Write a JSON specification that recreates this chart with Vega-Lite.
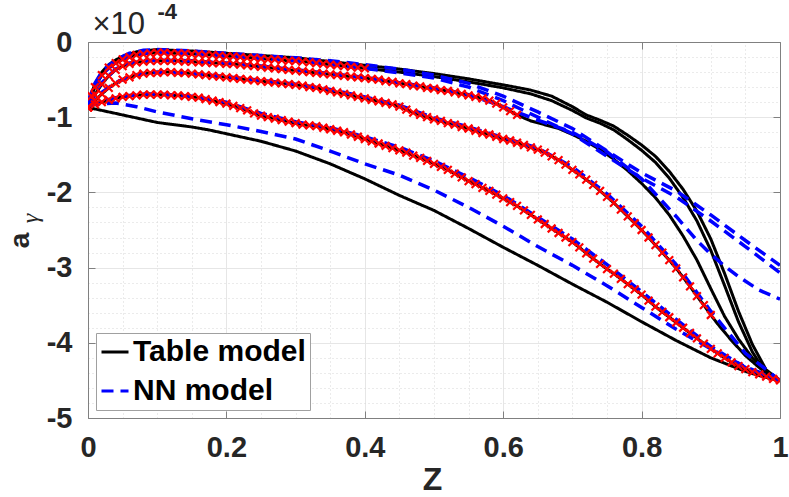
{
"$schema":"https://vega.github.io/schema/vega-lite/v6.json",
"width":692,"height":376,
"autosize":{"type":"none"},
"padding":{"left":88,"top":42,"right":9,"bottom":79},
"config":{"font":"Liberation Sans","view":{"stroke":null},
"legend":{"orient":"bottom-left","offset":8,"title":null,"labelFont":"Liberation Sans","labelFontSize":30,"labelFontWeight":"bold","labelColor":"#000000","symbolType":"stroke","symbolSize":729,"symbolStrokeWidth":3,"labelOffset":3,"padding":4,"rowPadding":9,"strokeColor":"#a0a0a0","fillColor":"#ffffff","labelLimit":400}},
"datasets":{
"tab":[
{"c":1,"z":0,"a":-0.87},{"c":1,"z":0.025,"a":-0.92},{"c":1,"z":0.05,"a":-0.97},{"c":1,"z":0.075,"a":-1.02},{"c":1,"z":0.1,"a":-1.07},{"c":1,"z":0.125,"a":-1.1},{"c":1,"z":0.15,"a":-1.13},{"c":1,"z":0.175,"a":-1.17},{"c":1,"z":0.2,"a":-1.22},{"c":1,"z":0.25,"a":-1.32},{"c":1,"z":0.3,"a":-1.45},{"c":1,"z":0.35,"a":-1.62},{"c":1,"z":0.4,"a":-1.82},{"c":1,"z":0.45,"a":-2.04},{"c":1,"z":0.5,"a":-2.24},{"c":1,"z":0.55,"a":-2.48},{"c":1,"z":0.6,"a":-2.73},{"c":1,"z":0.65,"a":-2.97},{"c":1,"z":0.7,"a":-3.22},{"c":1,"z":0.75,"a":-3.46},{"c":1,"z":0.8,"a":-3.72},{"c":1,"z":0.85,"a":-3.97},{"c":1,"z":0.9,"a":-4.2},{"c":1,"z":0.95,"a":-4.38},{"c":1,"z":0.975,"a":-4.45},{"c":1,"z":1,"a":-4.5},
{"c":2,"z":0,"a":-0.87},{"c":2,"z":0.01,"a":-0.83},{"c":2,"z":0.02,"a":-0.8},{"c":2,"z":0.03,"a":-0.77},{"c":2,"z":0.04,"a":-0.75},{"c":2,"z":0.05,"a":-0.73},{"c":2,"z":0.06,"a":-0.72},{"c":2,"z":0.07,"a":-0.71},{"c":2,"z":0.08,"a":-0.7},{"c":2,"z":0.09,"a":-0.7},{"c":2,"z":0.1,"a":-0.7},{"c":2,"z":0.11,"a":-0.7},{"c":2,"z":0.12,"a":-0.71},{"c":2,"z":0.13,"a":-0.71},{"c":2,"z":0.14,"a":-0.72},{"c":2,"z":0.15,"a":-0.73},{"c":2,"z":0.16,"a":-0.74},{"c":2,"z":0.17,"a":-0.76},{"c":2,"z":0.18,"a":-0.78},{"c":2,"z":0.19,"a":-0.8},{"c":2,"z":0.2,"a":-0.82},{"c":2,"z":0.21,"a":-0.85},{"c":2,"z":0.22,"a":-0.88},{"c":2,"z":0.23,"a":-0.91},{"c":2,"z":0.24,"a":-0.95},{"c":2,"z":0.25,"a":-0.98},{"c":2,"z":0.26,"a":-1},{"c":2,"z":0.27,"a":-1.02},{"c":2,"z":0.28,"a":-1.04},{"c":2,"z":0.29,"a":-1.06},{"c":2,"z":0.3,"a":-1.08},{"c":2,"z":0.31,"a":-1.1},{"c":2,"z":0.32,"a":-1.11},{"c":2,"z":0.33,"a":-1.12},{"c":2,"z":0.34,"a":-1.14},{"c":2,"z":0.35,"a":-1.16},{"c":2,"z":0.36,"a":-1.18},{"c":2,"z":0.37,"a":-1.2},{"c":2,"z":0.38,"a":-1.23},{"c":2,"z":0.39,"a":-1.26},{"c":2,"z":0.4,"a":-1.29},{"c":2,"z":0.41,"a":-1.32},{"c":2,"z":0.42,"a":-1.35},{"c":2,"z":0.43,"a":-1.38},{"c":2,"z":0.44,"a":-1.41},{"c":2,"z":0.45,"a":-1.44},{"c":2,"z":0.46,"a":-1.47},{"c":2,"z":0.47,"a":-1.51},{"c":2,"z":0.48,"a":-1.54},{"c":2,"z":0.49,"a":-1.58},{"c":2,"z":0.5,"a":-1.62},{"c":2,"z":0.51,"a":-1.66},{"c":2,"z":0.52,"a":-1.7},{"c":2,"z":0.53,"a":-1.75},{"c":2,"z":0.54,"a":-1.8},{"c":2,"z":0.55,"a":-1.85},{"c":2,"z":0.56,"a":-1.89},{"c":2,"z":0.57,"a":-1.94},{"c":2,"z":0.58,"a":-1.98},{"c":2,"z":0.59,"a":-2.03},{"c":2,"z":0.6,"a":-2.08},{"c":2,"z":0.61,"a":-2.13},{"c":2,"z":0.62,"a":-2.18},{"c":2,"z":0.63,"a":-2.24},{"c":2,"z":0.64,"a":-2.3},{"c":2,"z":0.65,"a":-2.36},{"c":2,"z":0.66,"a":-2.42},{"c":2,"z":0.67,"a":-2.48},{"c":2,"z":0.68,"a":-2.54},{"c":2,"z":0.69,"a":-2.6},{"c":2,"z":0.7,"a":-2.66},{"c":2,"z":0.71,"a":-2.73},{"c":2,"z":0.72,"a":-2.81},{"c":2,"z":0.73,"a":-2.88},{"c":2,"z":0.74,"a":-2.95},{"c":2,"z":0.75,"a":-3.02},{"c":2,"z":0.76,"a":-3.08},{"c":2,"z":0.77,"a":-3.15},{"c":2,"z":0.78,"a":-3.22},{"c":2,"z":0.79,"a":-3.29},{"c":2,"z":0.8,"a":-3.36},{"c":2,"z":0.81,"a":-3.44},{"c":2,"z":0.82,"a":-3.52},{"c":2,"z":0.83,"a":-3.59},{"c":2,"z":0.84,"a":-3.66},{"c":2,"z":0.85,"a":-3.73},{"c":2,"z":0.86,"a":-3.8},{"c":2,"z":0.87,"a":-3.87},{"c":2,"z":0.88,"a":-3.94},{"c":2,"z":0.89,"a":-4.01},{"c":2,"z":0.9,"a":-4.08},{"c":2,"z":0.91,"a":-4.14},{"c":2,"z":0.92,"a":-4.2},{"c":2,"z":0.93,"a":-4.26},{"c":2,"z":0.94,"a":-4.31},{"c":2,"z":0.95,"a":-4.35},{"c":2,"z":0.96,"a":-4.39},{"c":2,"z":0.97,"a":-4.42},{"c":2,"z":0.98,"a":-4.45},{"c":2,"z":0.99,"a":-4.48},{"c":2,"z":1,"a":-4.5},
{"c":3,"z":0,"a":-0.87},{"c":3,"z":0.01,"a":-0.78},{"c":3,"z":0.02,"a":-0.69},{"c":3,"z":0.03,"a":-0.61},{"c":3,"z":0.04,"a":-0.55},{"c":3,"z":0.05,"a":-0.5},{"c":3,"z":0.06,"a":-0.47},{"c":3,"z":0.07,"a":-0.44},{"c":3,"z":0.08,"a":-0.42},{"c":3,"z":0.09,"a":-0.41},{"c":3,"z":0.1,"a":-0.41},{"c":3,"z":0.11,"a":-0.4},{"c":3,"z":0.12,"a":-0.4},{"c":3,"z":0.13,"a":-0.41},{"c":3,"z":0.14,"a":-0.41},{"c":3,"z":0.15,"a":-0.42},{"c":3,"z":0.16,"a":-0.43},{"c":3,"z":0.17,"a":-0.44},{"c":3,"z":0.18,"a":-0.45},{"c":3,"z":0.19,"a":-0.46},{"c":3,"z":0.2,"a":-0.47},{"c":3,"z":0.21,"a":-0.48},{"c":3,"z":0.22,"a":-0.49},{"c":3,"z":0.23,"a":-0.5},{"c":3,"z":0.24,"a":-0.51},{"c":3,"z":0.25,"a":-0.52},{"c":3,"z":0.26,"a":-0.53},{"c":3,"z":0.27,"a":-0.54},{"c":3,"z":0.28,"a":-0.55},{"c":3,"z":0.29,"a":-0.56},{"c":3,"z":0.3,"a":-0.57},{"c":3,"z":0.31,"a":-0.58},{"c":3,"z":0.32,"a":-0.6},{"c":3,"z":0.33,"a":-0.61},{"c":3,"z":0.34,"a":-0.63},{"c":3,"z":0.35,"a":-0.65},{"c":3,"z":0.36,"a":-0.67},{"c":3,"z":0.37,"a":-0.69},{"c":3,"z":0.38,"a":-0.71},{"c":3,"z":0.39,"a":-0.73},{"c":3,"z":0.4,"a":-0.75},{"c":3,"z":0.41,"a":-0.77},{"c":3,"z":0.42,"a":-0.79},{"c":3,"z":0.43,"a":-0.81},{"c":3,"z":0.44,"a":-0.83},{"c":3,"z":0.45,"a":-0.86},{"c":3,"z":0.46,"a":-0.9},{"c":3,"z":0.47,"a":-0.94},{"c":3,"z":0.48,"a":-0.97},{"c":3,"z":0.49,"a":-1},{"c":3,"z":0.5,"a":-1.03},{"c":3,"z":0.51,"a":-1.05},{"c":3,"z":0.52,"a":-1.08},{"c":3,"z":0.53,"a":-1.1},{"c":3,"z":0.54,"a":-1.13},{"c":3,"z":0.55,"a":-1.15},{"c":3,"z":0.56,"a":-1.18},{"c":3,"z":0.57,"a":-1.21},{"c":3,"z":0.58,"a":-1.23},{"c":3,"z":0.59,"a":-1.26},{"c":3,"z":0.6,"a":-1.29},{"c":3,"z":0.61,"a":-1.31},{"c":3,"z":0.62,"a":-1.34},{"c":3,"z":0.63,"a":-1.37},{"c":3,"z":0.64,"a":-1.4},{"c":3,"z":0.65,"a":-1.43},{"c":3,"z":0.66,"a":-1.47},{"c":3,"z":0.67,"a":-1.52},{"c":3,"z":0.68,"a":-1.57},{"c":3,"z":0.69,"a":-1.63},{"c":3,"z":0.7,"a":-1.7},{"c":3,"z":0.71,"a":-1.76},{"c":3,"z":0.72,"a":-1.83},{"c":3,"z":0.73,"a":-1.9},{"c":3,"z":0.74,"a":-1.98},{"c":3,"z":0.75,"a":-2.06},{"c":3,"z":0.76,"a":-2.14},{"c":3,"z":0.77,"a":-2.23},{"c":3,"z":0.78,"a":-2.32},{"c":3,"z":0.79,"a":-2.41},{"c":3,"z":0.8,"a":-2.5},{"c":3,"z":0.81,"a":-2.6},{"c":3,"z":0.82,"a":-2.7},{"c":3,"z":0.83,"a":-2.8},{"c":3,"z":0.84,"a":-2.9},{"c":3,"z":0.85,"a":-3.01},{"c":3,"z":0.86,"a":-3.13},{"c":3,"z":0.87,"a":-3.25},{"c":3,"z":0.88,"a":-3.38},{"c":3,"z":0.89,"a":-3.5},{"c":3,"z":0.9,"a":-3.63},{"c":3,"z":0.91,"a":-3.75},{"c":3,"z":0.92,"a":-3.86},{"c":3,"z":0.93,"a":-3.97},{"c":3,"z":0.94,"a":-4.07},{"c":3,"z":0.95,"a":-4.17},{"c":3,"z":0.96,"a":-4.25},{"c":3,"z":0.97,"a":-4.33},{"c":3,"z":0.98,"a":-4.4},{"c":3,"z":0.99,"a":-4.46},{"c":3,"z":1,"a":-4.5},
{"c":4,"z":0,"a":-0.87},{"c":4,"z":0.01,"a":-0.7},{"c":4,"z":0.02,"a":-0.56},{"c":4,"z":0.03,"a":-0.45},{"c":4,"z":0.04,"a":-0.37},{"c":4,"z":0.05,"a":-0.32},{"c":4,"z":0.06,"a":-0.29},{"c":4,"z":0.07,"a":-0.27},{"c":4,"z":0.08,"a":-0.26},{"c":4,"z":0.09,"a":-0.25},{"c":4,"z":0.1,"a":-0.25},{"c":4,"z":0.11,"a":-0.25},{"c":4,"z":0.12,"a":-0.25},{"c":4,"z":0.13,"a":-0.25},{"c":4,"z":0.14,"a":-0.26},{"c":4,"z":0.15,"a":-0.26},{"c":4,"z":0.16,"a":-0.27},{"c":4,"z":0.17,"a":-0.27},{"c":4,"z":0.18,"a":-0.28},{"c":4,"z":0.19,"a":-0.28},{"c":4,"z":0.2,"a":-0.29},{"c":4,"z":0.21,"a":-0.29},{"c":4,"z":0.22,"a":-0.3},{"c":4,"z":0.23,"a":-0.31},{"c":4,"z":0.24,"a":-0.32},{"c":4,"z":0.25,"a":-0.33},{"c":4,"z":0.26,"a":-0.34},{"c":4,"z":0.27,"a":-0.35},{"c":4,"z":0.28,"a":-0.36},{"c":4,"z":0.29,"a":-0.37},{"c":4,"z":0.3,"a":-0.38},{"c":4,"z":0.31,"a":-0.39},{"c":4,"z":0.32,"a":-0.4},{"c":4,"z":0.33,"a":-0.41},{"c":4,"z":0.34,"a":-0.42},{"c":4,"z":0.35,"a":-0.43},{"c":4,"z":0.36,"a":-0.44},{"c":4,"z":0.37,"a":-0.45},{"c":4,"z":0.38,"a":-0.46},{"c":4,"z":0.39,"a":-0.47},{"c":4,"z":0.4,"a":-0.48},{"c":4,"z":0.41,"a":-0.49},{"c":4,"z":0.42,"a":-0.5},{"c":4,"z":0.43,"a":-0.52},{"c":4,"z":0.44,"a":-0.53},{"c":4,"z":0.45,"a":-0.55},{"c":4,"z":0.46,"a":-0.56},{"c":4,"z":0.47,"a":-0.58},{"c":4,"z":0.48,"a":-0.59},{"c":4,"z":0.49,"a":-0.61},{"c":4,"z":0.5,"a":-0.62},{"c":4,"z":0.51,"a":-0.64},{"c":4,"z":0.52,"a":-0.65},{"c":4,"z":0.53,"a":-0.67},{"c":4,"z":0.54,"a":-0.69},{"c":4,"z":0.55,"a":-0.71},{"c":4,"z":0.56,"a":-0.73},{"c":4,"z":0.57,"a":-0.75},{"c":4,"z":0.58,"a":-0.78},{"c":4,"z":0.59,"a":-0.82},{"c":4,"z":0.6,"a":-0.87},{"c":4,"z":0.61,"a":-0.92},{"c":4,"z":0.62,"a":-0.97},{"c":4,"z":0.64,"a":-1.05},{"c":4,"z":0.66,"a":-1.1},{"c":4,"z":0.68,"a":-1.15},{"c":4,"z":0.7,"a":-1.23},{"c":4,"z":0.72,"a":-1.32},{"c":4,"z":0.74,"a":-1.43},{"c":4,"z":0.76,"a":-1.56},{"c":4,"z":0.78,"a":-1.71},{"c":4,"z":0.8,"a":-1.88},{"c":4,"z":0.82,"a":-2.07},{"c":4,"z":0.84,"a":-2.3},{"c":4,"z":0.86,"a":-2.58},{"c":4,"z":0.88,"a":-2.9},{"c":4,"z":0.9,"a":-3.28},{"c":4,"z":0.92,"a":-3.65},{"c":4,"z":0.94,"a":-3.95},{"c":4,"z":0.96,"a":-4.2},{"c":4,"z":0.98,"a":-4.38},{"c":4,"z":1,"a":-4.5},
{"c":5,"z":0,"a":-0.87},{"c":5,"z":0.005,"a":-0.68},{"c":5,"z":0.01,"a":-0.56},{"c":5,"z":0.02,"a":-0.4},{"c":5,"z":0.03,"a":-0.3},{"c":5,"z":0.04,"a":-0.24},{"c":5,"z":0.05,"a":-0.19},{"c":5,"z":0.06,"a":-0.16},{"c":5,"z":0.07,"a":-0.13},{"c":5,"z":0.08,"a":-0.12},{"c":5,"z":0.09,"a":-0.11},{"c":5,"z":0.1,"a":-0.1},{"c":5,"z":0.12,"a":-0.11},{"c":5,"z":0.15,"a":-0.12},{"c":5,"z":0.2,"a":-0.15},{"c":5,"z":0.25,"a":-0.18},{"c":5,"z":0.3,"a":-0.21},{"c":5,"z":0.35,"a":-0.26},{"c":5,"z":0.4,"a":-0.31},{"c":5,"z":0.45,"a":-0.36},{"c":5,"z":0.5,"a":-0.42},{"c":5,"z":0.55,"a":-0.49},{"c":5,"z":0.6,"a":-0.57},{"c":5,"z":0.64,"a":-0.64},{"c":5,"z":0.67,"a":-0.72},{"c":5,"z":0.7,"a":-0.86},{"c":5,"z":0.72,"a":-0.97},{"c":5,"z":0.74,"a":-1.04},{"c":5,"z":0.76,"a":-1.12},{"c":5,"z":0.78,"a":-1.24},{"c":5,"z":0.8,"a":-1.37},{"c":5,"z":0.82,"a":-1.52},{"c":5,"z":0.84,"a":-1.72},{"c":5,"z":0.86,"a":-1.96},{"c":5,"z":0.88,"a":-2.25},{"c":5,"z":0.9,"a":-2.62},{"c":5,"z":0.92,"a":-3.08},{"c":5,"z":0.94,"a":-3.58},{"c":5,"z":0.96,"a":-4.02},{"c":5,"z":0.98,"a":-4.36},{"c":5,"z":1,"a":-4.5},
{"c":6,"z":0,"a":-0.87},{"c":6,"z":0.005,"a":-0.72},{"c":6,"z":0.01,"a":-0.6},{"c":6,"z":0.02,"a":-0.44},{"c":6,"z":0.03,"a":-0.34},{"c":6,"z":0.04,"a":-0.28},{"c":6,"z":0.05,"a":-0.23},{"c":6,"z":0.06,"a":-0.2},{"c":6,"z":0.07,"a":-0.17},{"c":6,"z":0.08,"a":-0.16},{"c":6,"z":0.09,"a":-0.15},{"c":6,"z":0.1,"a":-0.14},{"c":6,"z":0.11,"a":-0.14},{"c":6,"z":0.12,"a":-0.15},{"c":6,"z":0.13,"a":-0.15},{"c":6,"z":0.14,"a":-0.15},{"c":6,"z":0.15,"a":-0.16},{"c":6,"z":0.16,"a":-0.16},{"c":6,"z":0.17,"a":-0.17},{"c":6,"z":0.18,"a":-0.17},{"c":6,"z":0.19,"a":-0.18},{"c":6,"z":0.2,"a":-0.19},{"c":6,"z":0.21,"a":-0.19},{"c":6,"z":0.22,"a":-0.2},{"c":6,"z":0.23,"a":-0.21},{"c":6,"z":0.24,"a":-0.21},{"c":6,"z":0.25,"a":-0.22},{"c":6,"z":0.26,"a":-0.23},{"c":6,"z":0.27,"a":-0.23},{"c":6,"z":0.28,"a":-0.24},{"c":6,"z":0.29,"a":-0.25},{"c":6,"z":0.3,"a":-0.25},{"c":6,"z":0.31,"a":-0.26},{"c":6,"z":0.32,"a":-0.27},{"c":6,"z":0.33,"a":-0.28},{"c":6,"z":0.34,"a":-0.29},{"c":6,"z":0.35,"a":-0.3},{"c":6,"z":0.36,"a":-0.31},{"c":6,"z":0.37,"a":-0.32},{"c":6,"z":0.38,"a":-0.33},{"c":6,"z":0.39,"a":-0.34},{"c":6,"z":0.4,"a":-0.35},{"c":6,"z":0.45,"a":-0.4},{"c":6,"z":0.5,"a":-0.46},{"c":6,"z":0.55,"a":-0.53},{"c":6,"z":0.6,"a":-0.61},{"c":6,"z":0.64,"a":-0.69},{"c":6,"z":0.67,"a":-0.78},{"c":6,"z":0.7,"a":-0.91},{"c":6,"z":0.72,"a":-1.01},{"c":6,"z":0.74,"a":-1.08},{"c":6,"z":0.76,"a":-1.17},{"c":6,"z":0.78,"a":-1.3},{"c":6,"z":0.8,"a":-1.44},{"c":6,"z":0.82,"a":-1.6},{"c":6,"z":0.84,"a":-1.81},{"c":6,"z":0.86,"a":-2.07},{"c":6,"z":0.88,"a":-2.38},{"c":6,"z":0.9,"a":-2.77},{"c":6,"z":0.92,"a":-3.24},{"c":6,"z":0.94,"a":-3.72},{"c":6,"z":0.96,"a":-4.12},{"c":6,"z":0.98,"a":-4.41},{"c":6,"z":1,"a":-4.5}
],
"nn":[
{"c":1,"z":0,"a":-0.84},{"c":1,"z":0.02,"a":-0.82},{"c":1,"z":0.04,"a":-0.81},{"c":1,"z":0.07,"a":-0.86},{"c":1,"z":0.1,"a":-0.93},{"c":1,"z":0.15,"a":-1.02},{"c":1,"z":0.2,"a":-1.1},{"c":1,"z":0.25,"a":-1.19},{"c":1,"z":0.3,"a":-1.29},{"c":1,"z":0.35,"a":-1.45},{"c":1,"z":0.4,"a":-1.62},{"c":1,"z":0.45,"a":-1.77},{"c":1,"z":0.5,"a":-1.97},{"c":1,"z":0.55,"a":-2.2},{"c":1,"z":0.6,"a":-2.45},{"c":1,"z":0.65,"a":-2.72},{"c":1,"z":0.7,"a":-2.97},{"c":1,"z":0.75,"a":-3.24},{"c":1,"z":0.8,"a":-3.53},{"c":1,"z":0.85,"a":-3.82},{"c":1,"z":0.9,"a":-4.08},{"c":1,"z":0.95,"a":-4.32},{"c":1,"z":1,"a":-4.5},
{"c":2,"z":0,"a":-0.86},{"c":2,"z":0.01,"a":-0.82},{"c":2,"z":0.02,"a":-0.79},{"c":2,"z":0.04,"a":-0.74},{"c":2,"z":0.06,"a":-0.71},{"c":2,"z":0.08,"a":-0.69},{"c":2,"z":0.1,"a":-0.69},{"c":2,"z":0.15,"a":-0.72},{"c":2,"z":0.2,"a":-0.8},{"c":2,"z":0.25,"a":-0.95},{"c":2,"z":0.3,"a":-1.06},{"c":2,"z":0.35,"a":-1.14},{"c":2,"z":0.4,"a":-1.26},{"c":2,"z":0.45,"a":-1.4},{"c":2,"z":0.5,"a":-1.58},{"c":2,"z":0.55,"a":-1.8},{"c":2,"z":0.6,"a":-2.04},{"c":2,"z":0.65,"a":-2.33},{"c":2,"z":0.7,"a":-2.62},{"c":2,"z":0.75,"a":-2.96},{"c":2,"z":0.8,"a":-3.32},{"c":2,"z":0.85,"a":-3.69},{"c":2,"z":0.9,"a":-4.05},{"c":2,"z":0.95,"a":-4.33},{"c":2,"z":1,"a":-4.5},
{"c":3,"z":0,"a":-0.86},{"c":3,"z":0.01,"a":-0.76},{"c":3,"z":0.02,"a":-0.67},{"c":3,"z":0.04,"a":-0.54},{"c":3,"z":0.06,"a":-0.46},{"c":3,"z":0.08,"a":-0.42},{"c":3,"z":0.1,"a":-0.4},{"c":3,"z":0.15,"a":-0.42},{"c":3,"z":0.2,"a":-0.46},{"c":3,"z":0.25,"a":-0.51},{"c":3,"z":0.3,"a":-0.56},{"c":3,"z":0.35,"a":-0.63},{"c":3,"z":0.4,"a":-0.73},{"c":3,"z":0.45,"a":-0.84},{"c":3,"z":0.5,"a":-1.01},{"c":3,"z":0.55,"a":-1.13},{"c":3,"z":0.6,"a":-1.27},{"c":3,"z":0.65,"a":-1.41},{"c":3,"z":0.7,"a":-1.66},{"c":3,"z":0.75,"a":-2.02},{"c":3,"z":0.8,"a":-2.45},{"c":3,"z":0.85,"a":-2.96},{"c":3,"z":0.9,"a":-3.58},{"c":3,"z":0.95,"a":-4.14},{"c":3,"z":1,"a":-4.5},
{"c":4,"z":0,"a":-0.85},{"c":4,"z":0.01,"a":-0.68},{"c":4,"z":0.02,"a":-0.54},{"c":4,"z":0.04,"a":-0.36},{"c":4,"z":0.06,"a":-0.28},{"c":4,"z":0.08,"a":-0.25},{"c":4,"z":0.1,"a":-0.24},{"c":4,"z":0.15,"a":-0.25},{"c":4,"z":0.2,"a":-0.28},{"c":4,"z":0.25,"a":-0.32},{"c":4,"z":0.3,"a":-0.37},{"c":4,"z":0.35,"a":-0.42},{"c":4,"z":0.4,"a":-0.47},{"c":4,"z":0.45,"a":-0.54},{"c":4,"z":0.5,"a":-0.61},{"c":4,"z":0.55,"a":-0.7},{"c":4,"z":0.6,"a":-0.86},{"c":4,"z":0.65,"a":-1.04},{"c":4,"z":0.7,"a":-1.2},{"c":4,"z":0.75,"a":-1.46},{"c":4,"z":0.8,"a":-1.82},{"c":4,"z":0.85,"a":-2.32},{"c":4,"z":0.88,"a":-2.64},{"c":4,"z":0.9,"a":-2.82},{"c":4,"z":0.92,"a":-2.98},{"c":4,"z":0.94,"a":-3.12},{"c":4,"z":0.97,"a":-3.3},{"c":4,"z":1,"a":-3.42},
{"c":5,"z":0,"a":-0.8},{"c":5,"z":0.01,"a":-0.55},{"c":5,"z":0.02,"a":-0.4},{"c":5,"z":0.03,"a":-0.31},{"c":5,"z":0.04,"a":-0.24},{"c":5,"z":0.06,"a":-0.15},{"c":5,"z":0.08,"a":-0.11},{"c":5,"z":0.1,"a":-0.1},{"c":5,"z":0.15,"a":-0.12},{"c":5,"z":0.2,"a":-0.15},{"c":5,"z":0.25,"a":-0.18},{"c":5,"z":0.3,"a":-0.21},{"c":5,"z":0.35,"a":-0.25},{"c":5,"z":0.4,"a":-0.3},{"c":5,"z":0.45,"a":-0.36},{"c":5,"z":0.5,"a":-0.44},{"c":5,"z":0.55,"a":-0.55},{"c":5,"z":0.6,"a":-0.72},{"c":5,"z":0.65,"a":-0.93},{"c":5,"z":0.7,"a":-1.15},{"c":5,"z":0.75,"a":-1.45},{"c":5,"z":0.8,"a":-1.74},{"c":5,"z":0.85,"a":-1.98},{"c":5,"z":0.9,"a":-2.3},{"c":5,"z":0.95,"a":-2.64},{"c":5,"z":1,"a":-2.97},
{"c":6,"z":0,"a":-0.83},{"c":6,"z":0.01,"a":-0.58},{"c":6,"z":0.02,"a":-0.43},{"c":6,"z":0.04,"a":-0.27},{"c":6,"z":0.06,"a":-0.19},{"c":6,"z":0.08,"a":-0.15},{"c":6,"z":0.1,"a":-0.14},{"c":6,"z":0.15,"a":-0.16},{"c":6,"z":0.2,"a":-0.19},{"c":6,"z":0.25,"a":-0.22},{"c":6,"z":0.3,"a":-0.25},{"c":6,"z":0.35,"a":-0.3},{"c":6,"z":0.4,"a":-0.35},{"c":6,"z":0.45,"a":-0.41},{"c":6,"z":0.5,"a":-0.48},{"c":6,"z":0.55,"a":-0.6},{"c":6,"z":0.6,"a":-0.78},{"c":6,"z":0.65,"a":-1},{"c":6,"z":0.7,"a":-1.22},{"c":6,"z":0.75,"a":-1.52},{"c":6,"z":0.8,"a":-1.81},{"c":6,"z":0.85,"a":-2.06},{"c":6,"z":0.9,"a":-2.38},{"c":6,"z":0.95,"a":-2.72},{"c":6,"z":1,"a":-3.07}
]},
"resolve":{"axis":{"x":"independent","y":"independent"}},
"layer":[
{"data":{"name":"tab"},
"mark":{"type":"line","strokeWidth":3,"clip":true},
"encoding":{
"x":{"field":"z","type":"quantitative","scale":{"domain":[0,1],"nice":false,"zero":false},
"axis":{"orient":"bottom","values":[0,0.2,0.4,0.6,0.8,1],"labelExpr":"datum.value + ''","labelFont":"Liberation Sans","labelFontSize":29,"labelFontWeight":"bold","labelColor":"#262626","labelPadding":22,"labelFlush":false,"tickSize":-7,"tickColor":"#808080","domainColor":"#808080","grid":true,"gridColor":"#e6e6e6","title":"Z","titleFont":"Liberation Sans","titleFontSize":32,"titleFontWeight":"bold","titleColor":"#262626","titleBaseline":"alphabetic","titleX":344,"titleY":71}},
"y":{"field":"a","type":"quantitative","scale":{"domain":[-5,0],"nice":false,"zero":false},
"axis":{"orient":"left","values":[0,-1,-2,-3,-4,-5],"labelExpr":"datum.value + ''","labelFont":"Liberation Sans","labelFontSize":29,"labelFontWeight":"bold","labelColor":"#262626","labelPadding":23,"labelFlush":false,"tickSize":-7,"tickColor":"#808080","domainColor":"#808080","grid":true,"gridColor":"#e6e6e6","title":"a","titleFont":"Liberation Sans","titleFontSize":28,"titleFontWeight":"bold","titleColor":"#262626","titleAngle":270,"titleAlign":"center","titleBaseline":"alphabetic","titleX":-60,"titleY":198}},
"detail":{"field":"c","type":"nominal"},
"color":{"datum":"Table model","type":"nominal","scale":{"domain":["Table model","NN model"],"range":["#000000","#0000ff"]}},
"strokeDash":{"datum":"Table model","type":"nominal","scale":{"domain":["Table model","NN model"],"range":[[1,0],[12,7]]}}
}},
{"data":{"name":"nn"},
"mark":{"type":"line","strokeWidth":3.5,"clip":true},
"encoding":{
"x":{"field":"z","type":"quantitative",
"axis":{"orient":"top","values":[0,0.2,0.4,0.6,0.8,1],"labels":false,"tickSize":-7,"tickColor":"#808080","domainColor":"#808080","grid":false,"title":"-4","titleFont":"Liberation Sans","titleFontSize":22,"titleFontWeight":"bold","titleColor":"#262626","titleAngle":0,"titleAlign":"left","titleBaseline":"alphabetic","titleX":69,"titleY":-24}},
"y":{"field":"a","type":"quantitative",
"axis":{"orient":"right","values":[0,-1,-2,-3,-4,-5],"labels":false,"tickSize":-7,"tickColor":"#808080","domainColor":"#808080","grid":false,"title":"γ","titleFont":"Liberation Serif","titleFontStyle":"italic","titleFontSize":24,"titleFontWeight":"normal","titleColor":"#262626","titleAngle":270,"titleAlign":"center","titleBaseline":"alphabetic","titleX":-743,"titleY":176}},
"detail":{"field":"c","type":"nominal"},
"color":{"datum":"NN model","type":"nominal"},
"strokeDash":{"datum":"NN model","type":"nominal"}
}},
{"data":{"name":"tab"},
"transform":[{"filter":"datum.c == 2 || (datum.c == 3 && datum.z <= 0.9) || (datum.c == 4 && datum.z <= 0.62) || (datum.c == 6 && datum.z <= 0.4)"}],
"mark":{"type":"point","shape":"M-1,-1L1,1M1,-1L-1,1","filled":false,"color":"#ff0000","strokeWidth":2.2,"size":60,"opacity":1,"clip":true},
"encoding":{
"x":{"field":"z","type":"quantitative",
"axis":{"orient":"top","values":[0.05,0.1,0.15,0.25,0.3,0.35,0.45,0.5,0.55,0.65,0.7,0.75,0.85,0.9,0.95],"labels":false,"ticks":false,"domain":false,"grid":true,"gridColor":"#d6d6d6","gridDash":[1,3],"title":"×10","titleFont":"Liberation Sans","titleFontSize":31,"titleFontWeight":"normal","titleColor":"#262626","titleAngle":0,"titleAlign":"left","titleBaseline":"alphabetic","titleX":4,"titleY":-9}},
"y":{"field":"a","type":"quantitative",
"axis":{"orient":"left","values":[-0.2,-0.4,-0.6,-0.8,-1.2,-1.4,-1.6,-1.8,-2.2,-2.4,-2.6,-2.8,-3.2,-3.4,-3.6,-3.8,-4.2,-4.4,-4.6,-4.8],"labels":false,"ticks":false,"domain":false,"grid":true,"gridColor":"#d6d6d6","gridDash":[1,3],"title":null}}
}}
]
}
